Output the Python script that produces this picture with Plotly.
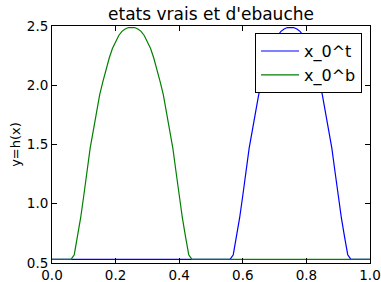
import plotly.graph_objects as go

# Green curve (x_0^b)
xb = [0.0, 0.06, 0.07, 0.08, 0.09, 0.10, 0.11, 0.12, 0.13, 0.14, 0.15, 0.16, 0.17, 0.18, 0.19,
      0.20, 0.21, 0.22, 0.23, 0.24, 0.25, 0.26, 0.27, 0.28, 0.29, 0.30, 0.31, 0.32, 0.33, 0.34,
      0.35, 0.36, 0.37, 0.38, 0.39, 0.40, 0.41, 0.42, 0.43, 0.44, 1.0]
yb = [0.53, 0.53, 0.57, 0.72, 0.88, 1.07, 1.27, 1.47, 1.62, 1.78, 1.92, 2.03, 2.14, 2.23, 2.31,
      2.37, 2.42, 2.455, 2.475, 2.487, 2.49, 2.487, 2.475, 2.455, 2.42, 2.37, 2.31, 2.23, 2.14, 2.03,
      1.92, 1.78, 1.62, 1.47, 1.27, 1.07, 0.88, 0.72, 0.57, 0.53, 0.53]

# Blue curve (x_0^t)
xt = [0.0, 0.56, 0.57, 0.58, 0.59, 0.60, 0.61, 0.62, 0.63, 0.64, 0.65, 0.66, 0.67, 0.68, 0.69,
      0.70, 0.71, 0.72, 0.73, 0.74, 0.75, 0.76, 0.77, 0.78, 0.79, 0.80, 0.81, 0.82, 0.83, 0.84,
      0.85, 0.86, 0.87, 0.88, 0.89, 0.90, 0.91, 0.92, 0.93, 0.94, 1.0]
yt = [0.53, 0.53, 0.57, 0.72, 0.88, 1.07, 1.27, 1.47, 1.62, 1.78, 1.92, 2.03, 2.14, 2.23, 2.31,
      2.37, 2.42, 2.455, 2.475, 2.487, 2.49, 2.487, 2.475, 2.455, 2.42, 2.37, 2.31, 2.23, 2.14, 2.03,
      1.92, 1.78, 1.62, 1.47, 1.27, 1.07, 0.88, 0.72, 0.57, 0.53, 0.53]

x_ticks = [0.0, 0.2, 0.4, 0.6, 0.8, 1.0]
y_ticks = [0.5, 1.0, 1.5, 2.0, 2.5]

title = "etats vrais et d'ebauche"
ylabel = "y=h(x)"

fig = go.Figure()
fig.add_trace(go.Scatter(x=xt, y=yt, mode="lines", name="x_0^t",
                         line=dict(color="#0000ff", width=1.2)))
fig.add_trace(go.Scatter(x=xb, y=yb, mode="lines", name="x_0^b",
                         line=dict(color="#008000", width=1.2)))

axis_common = dict(showline=True, linecolor="black", linewidth=1, mirror="ticks",
                   ticks="inside", ticklen=5, tickcolor="black", showgrid=False,
                   zeroline=False, automargin=False,
                   tickfont=dict(size=13.5, color="black"))

fig.update_layout(
    width=381, height=282,
    margin=dict(l=52, r=11, t=26, b=19),
    paper_bgcolor="white", plot_bgcolor="white",
    font=dict(family="DejaVu Sans", color="black"),
    title=dict(text=title, x=(52 + 370) / 2 / 381, xanchor="center", y=1 - 14 / 282,
               yanchor="middle", font=dict(size=17)),
    xaxis=dict(range=[0, 1], tickvals=x_ticks, tickformat=".1f", **axis_common),
    yaxis=dict(range=[0.5, 2.5], tickvals=y_ticks, tickformat=".1f",
               title=dict(text=ylabel, font=dict(size=13), standoff=3), **axis_common),
    legend=dict(x=0.975, y=0.97, xanchor="right", yanchor="top",
                bordercolor="black", borderwidth=1, bgcolor="white",
                font=dict(size=16), itemwidth=38, tracegroupgap=0),
    showlegend=True,
)

fig.write_html("out.html", config={"displayModeBar": False},
               post_script="document.body.style.margin='0';document.body.style.overflow='hidden';")
